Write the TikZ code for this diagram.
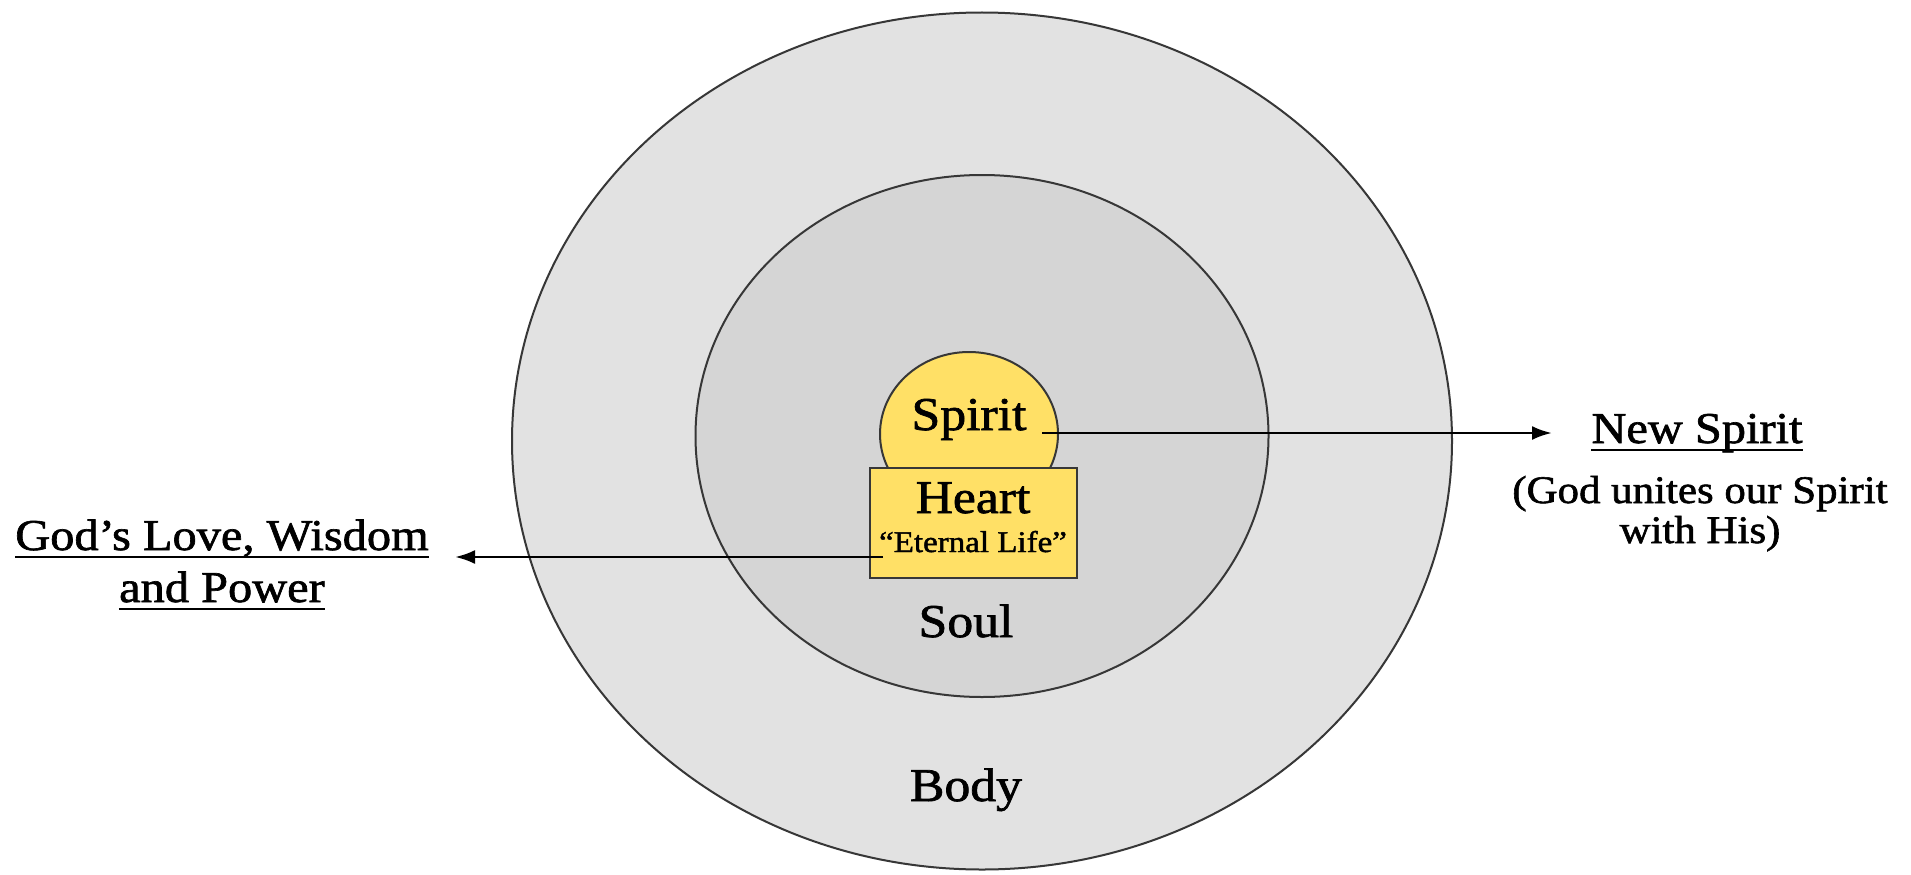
\documentclass[tikz,border=0pt]{standalone}
\usepackage{fontspec}
\setmainfont{Liberation Serif}[FakeStretch=1.1,UprightFeatures={FakeBold=1.5}]
\usepackage{xcolor}
\usepackage{tikz}
\usetikzlibrary{arrows.meta,shapes.geometric}

\definecolor{bodygray}{RGB}{226,226,226}
\definecolor{soulgray}{RGB}{213,213,213}
\definecolor{spirityellow}{RGB}{255,224,102}
\definecolor{rimgray}{RGB}{55,55,55}

\begin{document}
\begin{tikzpicture}[x=1pt,y=-1pt,font=\fontsize{47}{52}\selectfont,
  ring/.style={ellipse, draw=rimgray, line width=2pt, inner sep=0pt},
  label/.style={inner sep=0pt, anchor=base},
  note/.style={inner sep=0pt, anchor=base, font=\fontsize{44}{50}\selectfont},
  pointer/.style={-{Latex[length=20pt,width=14pt]}, line width=2.8pt}]

\useasboundingbox[fill=white] (0,0) rectangle (1911,875);

% the rings
\node[ring, fill=bodygray, minimum width=940, minimum height=857] (bodyring) at (982,441) {};
\node[ring, fill=soulgray, minimum width=573, minimum height=522] (soulring) at (982,436) {};
\node[ring, fill=spirityellow, minimum width=178, minimum height=164] (spiritring) at (969,434) {};
\node[draw=rimgray, line width=2pt, fill=spirityellow, minimum width=207, minimum height=110, inner sep=0pt] (heartbox) at (973.5,523) {};

% texts inside
\node[label] (spirittxt) at (969,430) {Spirit};
\node[label] (hearttxt) at (973,513) {Heart};
\node[label, font=\fontsize{30}{32}\selectfont] (lifetxt) at (973,552) {“Eternal Life”};
\node[label] (soultxt) at (966,637) {Soul};
\node[label] (bodytxt) at (966,801) {Body};

% texts outside
\node[note] (newspirit) at (1697,443) {New Spirit};
\node[note, font=\fontsize{39}{44}\selectfont] (unites1) at (1700,503) {(God unites our Spirit};
\node[note, font=\fontsize{39}{44}\selectfont] (unites2) at (1700,543) {with His)};
\node[note] (godline1) at (222,550) {God’s Love, Wisdom};
\node[note] (godline2) at (222,602) {and Power};

\foreach \n in {newspirit,godline1,godline2}
  \draw[line width=2pt] ([yshift=-7pt]\n.base west) -- ([yshift=-7pt]\n.base east);

% arrows
\coordinate (spiritout) at (1042,433);
\coordinate (newtip) at (1552,433);
\coordinate (lifeout) at (883,557);
\coordinate (godtip) at (455,557);
\draw[pointer] (spiritout) -- (newtip);
\draw[pointer] (lifeout) -- (godtip);

\end{tikzpicture}
\end{document}
